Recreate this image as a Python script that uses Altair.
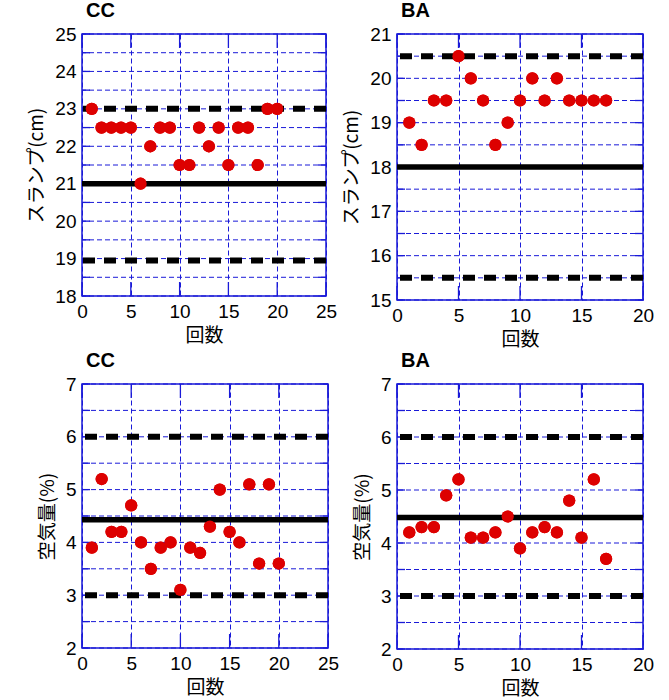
import altair as alt
import pandas as pd

# ---- data ----
cc_slump_x = list(range(1, 21))
cc_slump = [23, 22.5, 22.5, 22.5, 22.5, 21, 22, 22.5, 22.5, 21.5,
            21.5, 22.5, 22, 22.5, 21.5, 22.5, 22.5, 21.5, 23, 23]
cc_slump_limits = [23, 18.95]
cc_slump_center = [21]

ba_slump_x = list(range(1, 18))
ba_slump = [19, 18.5, 19.5, 19.5, 20.5, 20, 19.5, 18.5, 19, 19.5,
            20, 19.5, 20, 19.5, 19.5, 19.5, 19.5]
ba_slump_limits = [20.5, 15.5]
ba_slump_center = [18]

cc_air_x = list(range(1, 21))
cc_air = [3.9, 5.2, 4.2, 4.2, 4.7, 4.0, 3.5, 3.9, 4.0, 3.1,
          3.9, 3.8, 4.3, 5.0, 4.2, 4.0, 5.1, 3.6, 5.1, 3.6]
cc_air_limits = [6, 3]
cc_air_center = [4.43]

ba_air_x = list(range(1, 18))
ba_air = [4.2, 4.3, 4.3, 4.9, 5.2, 4.1, 4.1, 4.2, 4.5, 3.9,
          4.2, 4.3, 4.2, 4.8, 4.1, 5.2, 3.7]
ba_air_limits = [6, 3]
ba_air_center = [4.48]

x_ticks_25 = [0, 5, 10, 15, 20, 25]
x_ticks_20 = [0, 5, 10, 15, 20]
y_labels_cc_slump = [18, 19, 20, 21, 22, 23, 24, 25]
y_grid_cc_slump = [18, 18.5, 19, 19.5, 20, 20.5, 21, 21.5, 22, 22.5, 23, 23.5, 24, 24.5, 25]
y_labels_ba_slump = [15, 16, 17, 18, 19, 20, 21]
y_grid_ba_slump = [15, 15.5, 16, 16.5, 17, 17.5, 18, 18.5, 19, 19.5, 20, 20.5, 21]
y_labels_air = [2, 3, 4, 5, 6, 7]
y_grid_air = [2, 2.5, 3, 3.5, 4, 4.5, 5, 5.5, 6, 6.5, 7]

RED = "#dd0000"
BLUE = "#1a1ad8"
LABEL_FONT = "Liberation Sans"
JP_FONT = "Noto Sans CJK JP"


def panel(title, xs, ys, xticks, ylabels, ygrid, limits, center, ytitle, w, h):
    xsc = alt.Scale(domain=[xticks[0], xticks[-1]], nice=False, zero=False)
    ysc = alt.Scale(domain=[ygrid[0], ygrid[-1]], nice=False, zero=False)
    xax = alt.Axis(values=xticks, tickCount=50, title="回数", grid=True, ticks=False,
                   domain=False, labelFlush=False, labelOverlap=False, labelPadding=6,
                   titlePadding=5, format="d")
    yax = alt.Axis(values=ylabels, tickCount=50, title=ytitle, grid=False, ticks=False,
                   domain=False, labelFlush=False, labelOverlap=False, labelPadding=6,
                   titlePadding=8, format="d")

    df = pd.DataFrame({"x": xs, "y": ys})
    pts = alt.Chart(df).mark_circle(size=150, color=RED, opacity=1).encode(
        x=alt.X("x:Q", scale=xsc, axis=xax),
        y=alt.Y("y:Q", scale=ysc, axis=yax),
    )

    ytk = pd.DataFrame({"y": ygrid})
    xtk = pd.DataFrame({"x": xticks})
    hgrid = alt.Chart(ytk).mark_rule(color=BLUE, strokeWidth=1, strokeDash=[5, 3]).encode(
        y=alt.Y("y:Q", scale=ysc))
    left_t = alt.Chart(ytk).mark_rule(color=BLUE, strokeWidth=1.3).encode(
        y=alt.Y("y:Q", scale=ysc), x=alt.value(0), x2=alt.value(8))
    right_t = alt.Chart(ytk).mark_rule(color=BLUE, strokeWidth=1.3).encode(
        y=alt.Y("y:Q", scale=ysc), x=alt.value(w - 8), x2=alt.value(w))
    bot_t = alt.Chart(xtk).mark_rule(color=BLUE, strokeWidth=1.3).encode(
        x=alt.X("x:Q", scale=xsc), y=alt.value(h - 14), y2=alt.value(h))
    top_t = alt.Chart(xtk).mark_rule(color=BLUE, strokeWidth=1.3).encode(
        x=alt.X("x:Q", scale=xsc), y=alt.value(0), y2=alt.value(14))

    dashed = alt.Chart(pd.DataFrame({"y": limits})).mark_rule(
        color="black", strokeWidth=6, strokeDash=[12, 9]).encode(y=alt.Y("y:Q", scale=ysc))
    solid = alt.Chart(pd.DataFrame({"y": center})).mark_rule(
        color="black", strokeWidth=5.5).encode(y=alt.Y("y:Q", scale=ysc))

    return alt.layer(pts, hgrid, left_t, right_t, bot_t, top_t, dashed, solid, pts).properties(
        width=w, height=h,
        title=alt.TitleParams(text=title, anchor="start", frame="group", fontSize=20,
                              fontWeight="bold", font=LABEL_FONT, color="black",
                              offset=4, dx=4),
    )


p1 = panel("CC", cc_slump_x, cc_slump, x_ticks_25, y_labels_cc_slump, y_grid_cc_slump,
           cc_slump_limits, cc_slump_center, "スランプ(cm)", 244, 262)
p2 = panel("BA", ba_slump_x, ba_slump, x_ticks_20, y_labels_ba_slump, y_grid_ba_slump,
           ba_slump_limits, ba_slump_center, "スランプ(cm)", 246, 266)
p3 = panel("CC", cc_air_x, cc_air, x_ticks_25, y_labels_air, y_grid_air,
           cc_air_limits, cc_air_center, "空気量(%)", 246, 264)
p4 = panel("BA", ba_air_x, ba_air, x_ticks_20, y_labels_air, y_grid_air,
           ba_air_limits, ba_air_center, "空気量(%)", 246, 265)

chart = alt.concat(p1, p2, p3, p4, columns=2, spacing={"row": 0, "column": 2}).properties(
    padding={"left": 27, "top": 0, "right": 0, "bottom": 0}
).configure_view(
    stroke=BLUE, strokeWidth=1.5
).configure_axis(
    gridColor=BLUE, gridDash=[5, 3], gridWidth=1, gridOpacity=1,
    labelFont=LABEL_FONT, labelFontSize=19, labelColor="black",
    titleFont=JP_FONT, titleFontSize=19, titleFontWeight="normal", titleColor="black",
)

chart.save("out.html", embed_options={"renderer": "svg", "actions": False})
